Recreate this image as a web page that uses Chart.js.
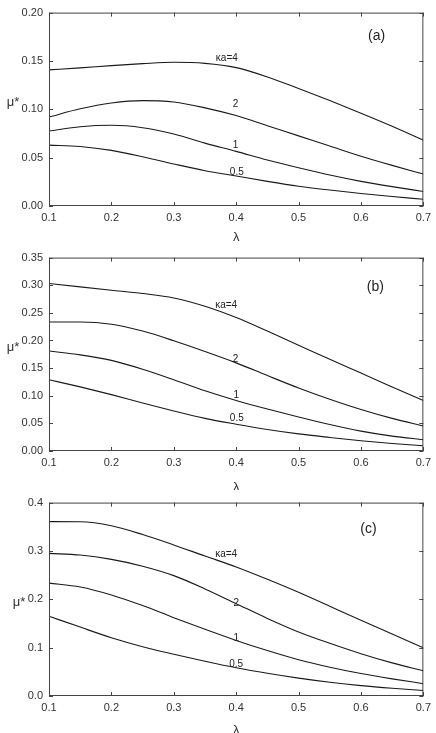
<!DOCTYPE html>
<html>
<head>
<meta charset="utf-8">
<script src="https://cdn.jsdelivr.net/npm/chart.js@4.4.0/dist/chart.umd.min.js"></script>
<style>
  body { margin: 0; background: #fff; }
  .panel { position: absolute; left: 0; width: 436px; }
</style>
</head>
<body>
<div class="panel" style="top:0; height:245px;"><canvas id="chartA"></canvas></div>
<div class="panel" style="top:245px; height:245px;"><canvas id="chartB"></canvas></div>
<div class="panel" style="top:490px; height:243px;"><canvas id="chartC"></canvas></div>
<script>
// lambda values shared by all panels
const lambda = [0.1, 0.15, 0.2, 0.25, 0.3, 0.35, 0.4, 0.45, 0.5, 0.55, 0.6, 0.65, 0.7];
const xTicks = [0.1, 0.2, 0.3, 0.4, 0.5, 0.6, 0.7];
const curveNames = ['κa=4', '2', '1', '0.5'];

// panel (a)
const a_ka4 = [0.1408, 0.1428, 0.1452, 0.1472, 0.1486, 0.1475, 0.1431, 0.1335, 0.1215, 0.1090, 0.0960, 0.0825, 0.0680];
const a_ka2 = [0.0920, 0.1005, 0.1065, 0.1090, 0.1075, 0.1015, 0.0935, 0.0830, 0.0725, 0.0620, 0.0515, 0.0420, 0.0330];
const a_ka1 = [0.0775, 0.0820, 0.0835, 0.0810, 0.0745, 0.0650, 0.0565, 0.0475, 0.0395, 0.0320, 0.0255, 0.0200, 0.0150];
const a_ka05 = [0.0630, 0.0615, 0.0575, 0.0510, 0.0435, 0.0365, 0.0310, 0.0255, 0.0205, 0.0165, 0.0130, 0.0098, 0.0070];
const a_yTicks = [0, 0.05, 0.10, 0.15, 0.20];

// panel (b)
const b_ka4 = [0.303, 0.297, 0.291, 0.285, 0.277, 0.262, 0.2415, 0.217, 0.1915, 0.166, 0.141, 0.116, 0.0915];
const b_ka2 = [0.2335, 0.2335, 0.2295, 0.217, 0.1995, 0.180, 0.1595, 0.1365, 0.114, 0.0935, 0.075, 0.059, 0.0455];
const b_ka1 = [0.181, 0.174, 0.164, 0.148, 0.129, 0.109, 0.0915, 0.076, 0.0615, 0.048, 0.036, 0.027, 0.0205];
const b_ka05 = [0.129, 0.116, 0.102, 0.087, 0.0725, 0.059, 0.0485, 0.039, 0.031, 0.0245, 0.0185, 0.0135, 0.0095];
const b_yTicks = [0, 0.05, 0.10, 0.15, 0.20, 0.25, 0.30, 0.35];

// panel (c)
const c_ka4 = [0.3607, 0.3603, 0.352, 0.334, 0.3125, 0.2895, 0.267, 0.2415, 0.2145, 0.1855, 0.1565, 0.128, 0.100];
const c_ka2 = [0.295, 0.2915, 0.2825, 0.2685, 0.249, 0.2215, 0.191, 0.1605, 0.1325, 0.109, 0.0875, 0.0685, 0.052];
const c_ka1 = [0.2335, 0.2255, 0.209, 0.187, 0.162, 0.138, 0.115, 0.094, 0.075, 0.0595, 0.0465, 0.0355, 0.0255];
const c_ka05 = [0.165, 0.1425, 0.1205, 0.102, 0.0865, 0.072, 0.0585, 0.047, 0.037, 0.0285, 0.0215, 0.016, 0.0115];
const c_yTicks = [0, 0.1, 0.2, 0.3, 0.4];

// where the curve labels sit, in data units [lambda, mu]
const a_labelAt = [[0.385, 0.153], [0.399, 0.105], [0.399, 0.063], [0.401, 0.035]];
const b_labelAt = [[0.384, 0.263], [0.399, 0.166], [0.400, 0.100], [0.401, 0.0587]];
const c_labelAt = [[0.384, 0.2934], [0.400, 0.1908], [0.400, 0.1195], [0.400, 0.0659]];

const FONT = '"Liberation Sans", Arial, sans-serif';
const INK = '#333';

const framePlugin = {
  id: 'frame',
  afterDraw(chart, args, opts) {
    const { ctx, chartArea: ca, scales: { x, y } } = chart;
    ctx.save();
    ctx.strokeStyle = '#444';
    ctx.lineWidth = 1;
    ctx.strokeRect(ca.left + 0.5, ca.top + 0.5, ca.right - ca.left - 1, ca.bottom - ca.top - 1);
    ctx.beginPath();
    xTicks.forEach(v => {
      const px = Math.round(x.getPixelForValue(v)) + 0.5;
      ctx.moveTo(px, ca.bottom); ctx.lineTo(px, ca.bottom - 4);
      ctx.moveTo(px, ca.top); ctx.lineTo(px, ca.top + 4);
    });
    opts.yTicks.forEach(v => {
      const py = Math.round(y.getPixelForValue(v)) + 0.5;
      ctx.moveTo(ca.left, py); ctx.lineTo(ca.left + 4, py);
      ctx.moveTo(ca.right, py); ctx.lineTo(ca.right - 4, py);
    });
    ctx.stroke();

    ctx.fillStyle = '#222';
    ctx.textAlign = 'center';
    ctx.textBaseline = 'middle';
    ctx.font = '10px ' + FONT;
    opts.labelAt.forEach((p, i) => {
      ctx.fillText(curveNames[i], x.getPixelForValue(p[0]), y.getPixelForValue(p[1]));
    });
    ctx.font = '14px ' + FONT;
    ctx.fillText(opts.tag, x.getPixelForValue(opts.tagAt[0]), y.getPixelForValue(opts.tagAt[1]));

    ctx.fillStyle = INK;
    ctx.font = '13px ' + FONT;
    ctx.fillText('μ*', opts.muPos[0], opts.muPos[1]);
    ctx.fillText('λ', (ca.left + ca.right) / 2, opts.lamY);
    ctx.restore();
  }
};

function makeChart(id, series, yTicks, decimals, labelAt, tag, tagAt, muPos, lamY, xAxisH) {
  const ctx = document.getElementById(id).getContext('2d');
  return new Chart(ctx, {
    type: 'line',
    data: {
      labels: lambda,
      datasets: series.map((s, i) => ({
        label: curveNames[i],
        data: lambda.map((l, j) => ({ x: l, y: s[j] })),
        borderColor: '#1a1a1a',
        borderWidth: 1.1,
        pointRadius: 0,
        fill: false,
        cubicInterpolationMode: 'monotone'
      }))
    },
    options: {
      responsive: true,
      maintainAspectRatio: false,
      animation: false,
      layout: { padding: { top: 9, right: 10, left: 0, bottom: 0 } },
      scales: {
        x: {
          type: 'linear',
          min: 0.1,
          max: 0.7,
          afterBuildTicks: scale => { scale.ticks = xTicks.map(v => ({ value: v })); },
          afterFit: scale => { scale.height = xAxisH; },
          grid: { display: false, drawTicks: false },
          border: { display: false },
          ticks: {
            padding: 5,
            color: INK,
            font: { family: FONT, size: 11 },
            maxRotation: 0,
            callback: v => Number(v).toFixed(1)
          }
        },
        y: {
          min: yTicks[0],
          max: yTicks[yTicks.length - 1],
          afterBuildTicks: scale => { scale.ticks = yTicks.map(v => ({ value: v })); },
          afterFit: scale => { scale.width = 49; },
          grid: { display: false, drawTicks: false },
          border: { display: false },
          ticks: {
            padding: 6,
            color: INK,
            font: { family: FONT, size: 11 },
            callback: v => Number(v).toFixed(decimals)
          }
        }
      },
      plugins: {
        legend: { display: false },
        tooltip: { enabled: false },
        frame: { yTicks, labelAt, tag, tagAt, muPos, lamY }
      }
    },
    plugins: [framePlugin]
  });
}

makeChart('chartA', [a_ka4, a_ka2, a_ka1, a_ka05], a_yTicks, 2, a_labelAt, '(a)', [0.625, 0.176], [13, 102], 237, 39);
makeChart('chartB', [b_ka4, b_ka2, b_ka1, b_ka05], b_yTicks, 2, b_labelAt, '(b)', [0.623, 0.2966], [13, 102], 242, 39);
makeChart('chartC', [c_ka4, c_ka2, c_ka1, c_ka05], c_yTicks, 1, c_labelAt, '(c)', [0.612, 0.3443], [19, 112], 240, 37);
</script>
</body>
</html>
